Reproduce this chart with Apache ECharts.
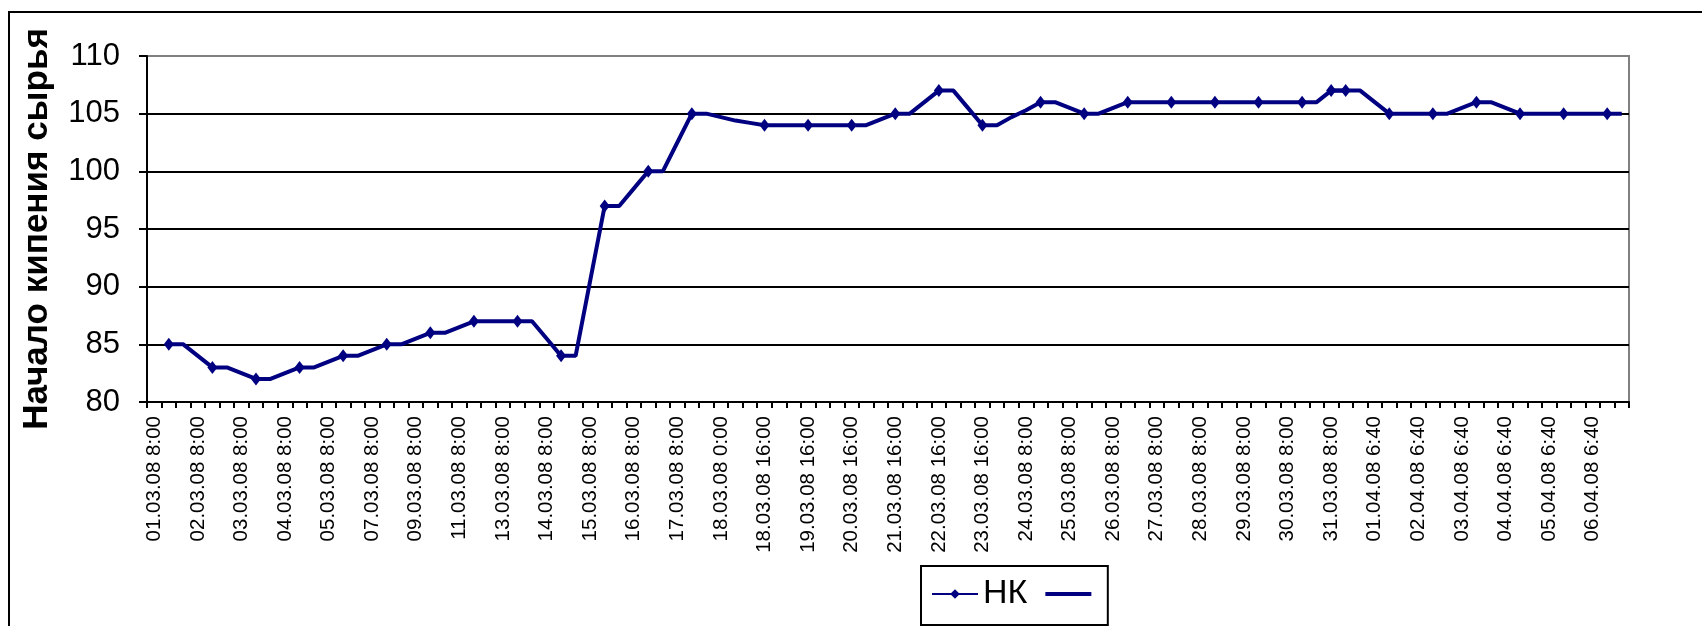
<!DOCTYPE html>
<html>
<head>
<meta charset="utf-8">
<script src="https://cdn.jsdelivr.net/npm/echarts@6/dist/echarts.min.js"></script>
<style>
  html, body { margin: 0; padding: 0; background: #fff; }
  #chart { width: 1702px; height: 626px; }
</style>
</head>
<body>
<div id="chart"></div>
<script>
// Labelled sample times (every third category carries a label)
const tickLabels = [
  '01.03.08 8:00', '02.03.08 8:00', '03.03.08 8:00', '04.03.08 8:00', '05.03.08 8:00',
  '07.03.08 8:00', '09.03.08 8:00', '11.03.08 8:00', '13.03.08 8:00', '14.03.08 8:00',
  '15.03.08 8:00', '16.03.08 8:00', '17.03.08 8:00', '18.03.08 0:00', '18.03.08 16:00',
  '19.03.08 16:00', '20.03.08 16:00', '21.03.08 16:00', '22.03.08 16:00', '23.03.08 16:00',
  '24.03.08 8:00', '25.03.08 8:00', '26.03.08 8:00', '27.03.08 8:00', '28.03.08 8:00',
  '29.03.08 8:00', '30.03.08 8:00', '31.03.08 8:00', '01.04.08 6:40', '02.04.08 6:40',
  '03.04.08 6:40', '04.04.08 6:40', '05.04.08 6:40', '06.04.08 6:40'
];
const categoryCount = 102;

// Continuous trace of the initial boiling point, one value per category
const traceValues = [
  null, 85, 85, 84, 83, 83, 82.5, 82, 82, 82.5,
  83, 83, 83.5, 84, 84, 84.5, 85, 85, 85.5, 86,
  86, 86.5, 87, 87, 87, 87, 87, 85.5, 84, 84,
  90.5, 97, 97, 98.5, 100, 100, 102.5, 105, 105, 104.7,
  104.4, 104.2, 104, 104, 104, 104, 104, 104, 104, 104,
  104.5, 105, 105, 106, 107, 107, 105.5, 104, 104, 104.7,
  105.3, 106, 106, 105.5, 105, 105, 105.5, 106, 106, 106,
  106, 106, 106, 106, 106, 106, 106, 106, 106, 106,
  106, 107, 107, 107, 106, 105, 105, 105, 105, 105,
  105.5, 106, 106, 105.5, 105, 105, 105, 105, 105, 105,
  105, 105
];

// Categories where the НК measurements are marked
const nkMarked = [1, 4, 7, 10, 13, 16, 19, 22, 25, 28, 31, 34, 37, 42, 45, 48, 51, 54, 57,
  61, 64, 67, 70, 73, 76, 79, 81, 82, 85, 88, 91, 94, 97, 100];
const nkValues = [85, 83, 82, 83, 84, 85, 86, 87, 87, 84, 97, 100, 105, 104, 104, 104, 105, 107, 104,
  106, 105, 106, 106, 106, 106, 106, 107, 107, 105, 105, 106, 105, 105, 105];

const yTicks = { min: 80, max: 110, step: 5 };

const categories = [];
for (let i = 0; i < categoryCount; i++) {
  categories.push(i % 3 === 0 && tickLabels[i / 3] ? tickLabels[i / 3] : '');
}
const nkData = new Array(categoryCount).fill(null);
nkMarked.forEach((c, k) => { nkData[c] = nkValues[k]; });

const FONT = "'Liberation Sans', Arial, sans-serif";
const NAVY = '#000080';

const chart = echarts.init(document.getElementById('chart'), null, { renderer: 'canvas' });
chart.setOption({
  animation: false,
  backgroundColor: '#ffffff',
  textStyle: { fontFamily: FONT, color: '#000' },
  grid: {
    left: 147, top: 56, width: 1482, height: 346,
    show: true, borderColor: '#808080', borderWidth: 2, backgroundColor: 'transparent'
  },
  legend: {
    left: 921, top: 566,
    data: [
      { name: 'НК' },
      { name: ' ', itemStyle: { opacity: 0 }, lineStyle: { width: 4 } }
    ],
    itemWidth: 46, itemHeight: 12, itemGap: 16,
    padding: [11, 2, 14, 10],
    borderColor: '#000', borderWidth: 2,
    textStyle: { fontSize: 34, fontFamily: FONT, color: '#000' }
  },
  xAxis: {
    type: 'category',
    data: categories,
    boundaryGap: true,
    axisLine: { lineStyle: { color: '#000', width: 2 } },
    axisTick: { show: true, interval: 0, length: 6, lineStyle: { color: '#000', width: 2 } },
    axisLabel: {
      interval: 2, rotate: 90, margin: 14,
      fontSize: 20.5, fontFamily: FONT, color: '#000'
    },
    splitLine: { show: false }
  },
  yAxis: {
    type: 'value',
    min: yTicks.min, max: yTicks.max, interval: yTicks.step,
    name: 'Начало кипения сырья',
    nameLocation: 'middle', nameRotate: 90, nameGap: 92,
    nameTextStyle: { fontSize: 35, fontWeight: 'bold', fontFamily: FONT, color: '#000' },
    axisLine: { show: true, lineStyle: { color: '#000', width: 2 } },
    axisTick: { show: true, length: 8, lineStyle: { color: '#000', width: 2 } },
    axisLabel: { fontSize: 31, margin: 27, fontFamily: FONT, color: '#000' },
    splitLine: {
      show: true,
      lineStyle: { color: ['#000', '#000', '#000', '#000', '#000', '#000', '#808080'], width: 2 }
    }
  },
  graphic: [{
    type: 'rect',
    shape: { x: 9, y: 12, width: 2000, height: 1000 },
    style: { fill: 'none', stroke: '#000', lineWidth: 2 },
    silent: true
  }],
  series: [
    {
      name: 'НК',
      type: 'line',
      data: nkData,
      connectNulls: false,
      symbol: 'diamond',
      symbolSize: [10, 13],
      showAllSymbol: true,
      showSymbol: true,
      lineStyle: { color: NAVY, width: 4 },
      itemStyle: { color: NAVY },
      z: 3
    },
    {
      name: ' ',
      type: 'line',
      data: traceValues,
      symbol: 'none',
      lineStyle: { color: NAVY, width: 4 },
      itemStyle: { color: NAVY },
      z: 2
    }
  ]
});
</script>
</body>
</html>
